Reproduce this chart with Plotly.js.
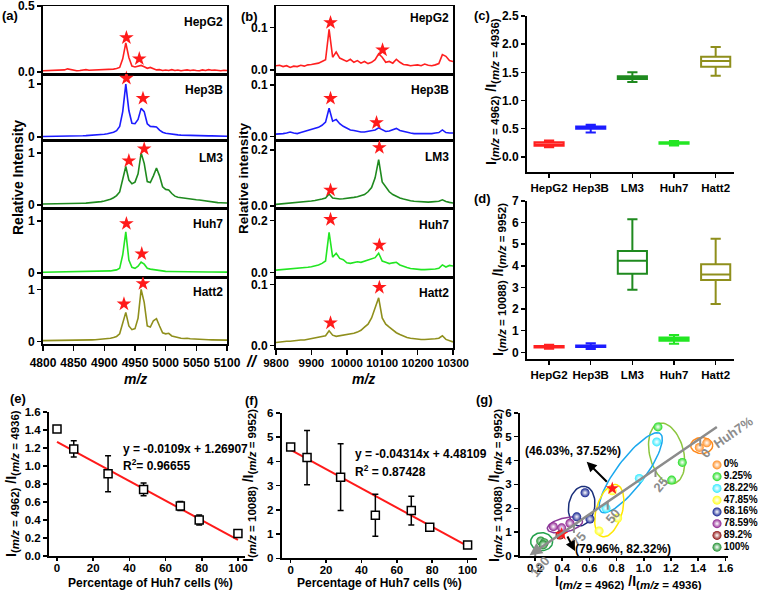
<!DOCTYPE html>
<html>
<head>
<meta charset="utf-8">
<title>HCC cell lines - MALDI ratios</title>
<script src="https://cdn.plot.ly/plotly-3.0.1.min.js"></script>
<style>
	body { margin: 0; background-color: white; }
	#chart { width: 760px; height: 590px; }
</style>
</head>
<body>
<div id="chart"></div>
<script>
	// ---- values ----
	var cells = ['HepG2', 'Hep3B', 'LM3', 'Huh7', 'Hatt2'];
	var cellColors = ['#ff2020', '#1c1cff', '#1f8a1f', '#22e622', '#8f8f1c'];

	var mzLow = [4800,4805,4810,4815,4820,4825,4830,4835,4840,4845,4850,4855,4860,4865,4870,4875,4880,4885,4890,4895,
		4900,4905,4910,4915,4920,4925,4930,4935,4940,4945,4950,4955,4960,4965,4970,4975,4980,4985,4990,4995,
		5000,5005,5010,5015,5020,5025,5030,5035,5040,5045,5050,5055,5060,5065,5070,5075,5080,5085,5090,5095,5100];
	var lowHepG2 = [0.010,0.011,0.012,0.010,0.012,0.011,0.013,0.016,0.024,0.020,
		0.012,0.010,0.012,0.014,0.018,0.013,0.014,0.016,0.012,0.015,
		0.015,0.019,0.018,0.022,0.026,0.035,0.100,0.220,0.110,0.045,
		0.038,0.045,0.050,0.040,0.028,0.035,0.026,0.016,0.018,0.012,
		0.015,0.012,0.018,0.012,0.015,0.010,0.013,0.016,0.012,0.015,
		0.012,0.010,0.016,0.012,0.018,0.013,0.015,0.012,0.010,0.013,0.011];
	var lowHep3B = [0.010,0.010,0.010,0.011,0.012,0.012,0.012,0.013,0.014,0.015,
		0.016,0.018,0.020,0.022,0.025,0.028,0.030,0.034,0.040,0.046,
		0.052,0.060,0.070,0.090,0.120,0.200,0.480,1.000,0.500,0.260,
		0.250,0.330,0.540,0.480,0.250,0.200,0.195,0.190,0.130,0.090,
		0.070,0.060,0.050,0.045,0.040,0.035,0.032,0.030,0.028,0.026,
		0.025,0.023,0.022,0.021,0.020,0.020,0.018,0.018,0.017,0.016,0.015];
	var lowLM3 = [0.020,0.020,0.021,0.022,0.022,0.023,0.024,0.025,0.026,0.027,
		0.028,0.030,0.032,0.034,0.036,0.040,0.044,0.050,0.056,0.065,
		0.075,0.090,0.110,0.140,0.180,0.250,0.500,0.740,0.480,0.410,
		0.440,0.600,1.000,0.800,0.450,0.430,0.560,0.710,0.560,0.350,
		0.300,0.290,0.220,0.170,0.150,0.140,0.130,0.120,0.110,0.100,
		0.100,0.095,0.085,0.075,0.065,0.055,0.050,0.045,0.042,0.040,0.038];
	var lowHuh7 = [0.015,0.016,0.015,0.016,0.017,0.016,0.017,0.018,0.017,0.018,
		0.018,0.019,0.018,0.020,0.020,0.021,0.022,0.024,0.026,0.030,
		0.032,0.035,0.040,0.050,0.060,0.090,0.350,0.790,0.250,0.110,
		0.090,0.130,0.210,0.170,0.090,0.075,0.065,0.050,0.040,0.035,
		0.032,0.030,0.028,0.026,0.025,0.024,0.023,0.022,0.021,0.020,
		0.020,0.020,0.019,0.019,0.019,0.018,0.018,0.018,0.017,0.017,0.017];
	var lowHatt2 = [0.020,0.020,0.021,0.021,0.022,0.022,0.023,0.023,0.024,0.024,
		0.025,0.026,0.027,0.028,0.030,0.032,0.034,0.036,0.040,0.045,
		0.050,0.055,0.065,0.080,0.100,0.150,0.350,0.560,0.300,0.230,
		0.250,0.450,1.000,0.750,0.300,0.280,0.400,0.440,0.300,0.170,
		0.150,0.160,0.110,0.090,0.075,0.065,0.060,0.065,0.055,0.050,
		0.050,0.045,0.040,0.038,0.036,0.034,0.032,0.031,0.030,0.030,0.030];

	var mzHigh = [9800,9810,9820,9830,9840,9850,9860,9870,9880,9890,
		9900,9910,9920,9930,9940,9950,9960,9970,9980,9990,
		10000,10010,10020,10030,10040,10050,10060,10070,10080,10090,
		10100,10110,10120,10130,10140,10150,10160,10170,10180,10190,
		10200,10210,10220,10230,10240,10250,10260,10270,10280,10290,10300];
	var highHepG2 = [0.010,0.011,0.008,0.010,0.006,0.009,0.008,0.011,0.009,0.012,
		0.013,0.015,0.016,0.020,0.024,0.095,0.030,0.042,0.028,0.024,
		0.020,0.025,0.018,0.022,0.016,0.020,0.015,0.018,0.024,0.038,
		0.030,0.018,0.020,0.016,0.025,0.018,0.013,0.012,0.010,0.011,
		0.012,0.010,0.014,0.011,0.010,0.012,0.015,0.036,0.032,0.022,0.020];
	var highHep3B = [0.005,0.005,0.006,0.007,0.009,0.007,0.006,0.008,0.010,0.012,
		0.014,0.016,0.018,0.022,0.028,0.055,0.030,0.033,0.025,0.020,
		0.016,0.013,0.012,0.010,0.009,0.009,0.010,0.011,0.013,0.017,
		0.013,0.010,0.011,0.013,0.016,0.012,0.010,0.008,0.007,0.006,
		0.006,0.006,0.005,0.006,0.006,0.007,0.008,0.013,0.008,0.007,0.007];
	var highLM3 = [0.005,0.006,0.007,0.008,0.009,0.010,0.011,0.012,0.014,0.015,
		0.017,0.019,0.021,0.024,0.028,0.042,0.028,0.026,0.024,0.025,
		0.026,0.028,0.030,0.032,0.036,0.040,0.050,0.065,0.100,0.165,
		0.085,0.065,0.050,0.040,0.033,0.028,0.024,0.020,0.018,0.016,
		0.015,0.014,0.013,0.013,0.014,0.015,0.016,0.021,0.015,0.012,0.010];
	var highHuh7 = [0.010,0.011,0.012,0.013,0.015,0.016,0.017,0.018,0.020,0.021,
		0.023,0.026,0.030,0.036,0.045,0.155,0.060,0.075,0.055,0.050,
		0.038,0.036,0.040,0.042,0.040,0.045,0.048,0.052,0.058,0.075,
		0.045,0.040,0.035,0.038,0.040,0.030,0.024,0.020,0.016,0.014,
		0.013,0.012,0.012,0.013,0.012,0.014,0.017,0.030,0.022,0.028,0.026];
	var highHatt2 = [0.005,0.006,0.006,0.007,0.007,0.008,0.008,0.009,0.009,0.010,
		0.011,0.012,0.013,0.014,0.016,0.024,0.017,0.015,0.016,0.017,
		0.017,0.018,0.020,0.022,0.025,0.030,0.035,0.045,0.060,0.078,
		0.045,0.035,0.030,0.025,0.021,0.018,0.015,0.013,0.012,0.011,
		0.010,0.010,0.010,0.010,0.010,0.011,0.012,0.016,0.010,0.008,0.006];

	// red stars marking the peaks
	var starLowX = [[4936,4957],[4936,4963],[4940,4965],[4936,4961],[4932,4963]];
	var starLowY = [[0.26,0.10],[1.11,0.73],[0.85,1.08],[0.95,0.37],[0.72,1.11]];
	var starHighX = [[9954,10101],[9954,10084],[9954,10092],[9954,10092],[9954,10092]];
	var starHighY = [[0.111,0.047],[0.074,0.027],[0.056,0.208],[0.205,0.106],[0.037,0.095]];

	var lowTicks = [[0,0.5],[0,1],[0,1],[0,1],[0,1]];
	var lowTickText = [['0.0','0.5'],['0','1'],['0','1'],['0','1'],['0','1']];
	var highTicks = [[0,0.1],[0,0.1],[0,0.2],[0,0.2],[0,0.1]];
	var highTickText = [['0.0','0.1'],['0.0','0.1'],['0.0','0.2'],['0.0','0.2'],['0.0','0.1']];
	var lowXTicks = [4800,4850,4900,4950,5000,5050,5100];
	var highXTicks = [9800,9900,10000,10100,10200,10300];

	// box plots: I(4962)/I(4936) and I(10088)/I(9952)
	var r1Low = [0.17,0.43,1.33,0.20,1.44];
	var r1Q1 = [0.195,0.50,1.38,0.23,1.60];
	var r1Med = [0.22,0.52,1.40,0.245,1.70];
	var r1Q3 = [0.26,0.54,1.43,0.26,1.775];
	var r1High = [0.29,0.57,1.50,0.28,1.95];
	var r2Low = [0.17,0.15,2.89,0.39,2.24];
	var r2Q1 = [0.22,0.24,3.63,0.54,3.35];
	var r2Med = [0.26,0.28,4.23,0.60,3.60];
	var r2Q3 = [0.29,0.32,4.69,0.68,4.07];
	var r2High = [0.35,0.42,6.16,0.80,5.25];

	// mixtures with Huh7 cells
	var huh7Pct = [0, 9.25, 28.22, 47.85, 68.16, 78.59, 100];
	var mixRatio1 = [1.41, 1.19, 0.915, 0.74, 0.555, 0.40, 0.25];
	var mixRatio1Err = [0.012, 0.09, 0.20, 0.07, 0.05, 0.055, 0.015];
	var mixRatio2 = [4.60, 4.16, 3.35, 1.78, 1.97, 1.28, 0.55];
	var mixRatio2Err = [0.08, 1.12, 1.38, 0.87, 0.59, 0.05, 0.05];
	var fitX = [0, 100];
	var fit1Y = [1.269, 0.179];
	var fit2Y = [4.48, 0.50];
	var fit1Text = ['y = -0.0109x + 1.26907', 'R<sup>2</sup>= 0.96655'];
	var fit2Text = ['y = -0.04314x + 4.48109', 'R<sup>2</sup> = 0.87428'];

	// scatter of the two ratios, one group per mixture
	var groups = ['0%', '9.25%', '28.22%', '47.85%', '68.16%', '78.59%', '89.2%', '100%'];
	var groupColors = ['#ff8a1c', '#1fdc1f', '#2ee8ff', '#ffff1a', '#0a1a8c', '#8a1a8c', '#8c0a0a', '#1a8c2a'];
	var groupX = [[1.408,1.463],[1.104,1.283,1.205],[1.095,0.967,0.722],[0.768,0.671,0.808],
		[0.568,0.507,0.604],[0.335,0.396,0.457],[0.384],[0.242,0.268,0.26]];
	var groupY = [[4.55,4.74],[5.41,3.92,3.18],[4.78,3.25,2.0],[2.73,1.05,1.59],
		[2.65,1.64,1.55],[1.23,1.18,1.37],[0.88],[0.63,0.56,0.47]];
	// ellipse: centre x, centre y, half axes in px, tilt in degrees
	var ellipses = [[1.426,4.63,11,8,0],[1.168,4.30,31,17,76],[0.904,3.49,49,14,-53],[0.746,1.90,27,13,-74],
		[0.543,2.09,20,13,-80],[0.42,1.30,18,7,-13],[0.249,0.60,11,9,0]];
	var ellipseColors = ['#ff8a1c', '#8cc63f', '#1aa8ee', '#ffe600', '#1a2f7a', '#8a3a9a', '#22a04a'];
	var starMixX = [0.768, 0.396];
	var starMixY = [2.83, 0.92];
	var huh7Axis = [[0.16, 0.03], [1.548, 5.45]];
	var huh7Labels = ['0', '25', '50', '75', '100'];
	var huh7Frac = [0.904, 0.667, 0.414, 0.235, 0.03];
	var arrowHeads = [[0.58, 3.95], [0.494, 0.21]];
	var arrowTails = [[0.739, 3.05], [0.433, 0.88]];
	var arrowText = ['(46.03%, 37.52%)', '(79.96%, 82.32%)'];
	var arrowTextPos = [[0.476, 4.40], [0.847, 0.29]];

	// ---- layout helpers ----
	var W = 760, H = 590;
	var FONT = 'Liberation Sans, Arial, sans-serif';
	function fx(p) { return p / W; }
	function fy(p) { return 1 - p / H; }
	function bold(size, color) { return {family: FONT, size: size, color: color || 'black', weight: 'bold'}; }
	function axId(n) { return n === 1 ? '' : String(n); }
	function baseAxis() {
		return {showgrid: false, zeroline: false, showline: true, linecolor: 'black', linewidth: 2,
			ticks: 'outside', ticklen: 4, tickwidth: 1.5, tickcolor: 'black', tickfont: bold(12),
			tickangle: 0, fixedrange: true, automargin: false};
	}

	var traces = [];
	var layout = {
		width: W, height: H,
		margin: {l: 0, r: 0, t: 0, b: 0},
		showlegend: false,
		paper_bgcolor: 'white',
		plot_bgcolor: 'rgba(0,0,0,0)',
		font: bold(12),
		annotations: [],
		shapes: []
	};

	function note(text, x, y, extra) {
		var a = {text: text, xref: 'paper', yref: 'paper', x: fx(x), y: fy(y), showarrow: false,
			font: bold(12), xanchor: 'center', yanchor: 'middle'};
		layout.annotations.push(Object.assign(a, extra || {}));
	}

	function ratioTitle(a, b) {
		var sub = function (m) { return '<sub><span style="font-size:11.5px">(<i>m/z</i> = ' + m + ')</span></sub>'; };
		return 'I' + sub(a) + ' /I' + sub(b);
	}

	// ---- (a) and (b) spectra ----
	function spectra(first, left, right, bands, mz, series, yRanges, yTicks, yText, xTicks, xFont, xStand, sx, sy, nameDy) {
		series.forEach(function (ys, i) {
			var id = axId(first + i), last = i === series.length - 1;
			layout['xaxis' + id] = Object.assign(baseAxis(), {
				anchor: 'y' + id, domain: [fx(left), fx(right)], range: [mz[0], mz[mz.length - 1]],
				mirror: true, linewidth: 1.5, ticks: last ? 'outside' : '', showticklabels: last,
				tickvals: xTicks, tickformat: 'd', ticklen: 5, ticklabelstandoff: xStand, tickfont: bold(xFont)
			});
			layout['yaxis' + id] = Object.assign(baseAxis(), {
				anchor: 'x' + id, domain: [fy(bands[i][1]), fy(bands[i][0])], range: yRanges[i],
				mirror: true, tickvals: yTicks[i], ticktext: yText[i]
			});
			traces.push({type: 'scatter', mode: 'lines', x: mz, y: ys, xaxis: 'x' + id, yaxis: 'y' + id,
				line: {color: cellColors[i], width: 1.6}, hoverinfo: 'skip'});
			traces.push({type: 'scatter', mode: 'markers', x: sx[i], y: sy[i], xaxis: 'x' + id, yaxis: 'y' + id,
				cliponaxis: false, marker: {symbol: 'star', size: 11, color: '#ff1a1a'}, hoverinfo: 'skip'});
			note(cells[i], right - 2, bands[i][0] + nameDy[i], {xanchor: 'right'});
		});
	}

	spectra(1, 43, 227, [[6,74],[74,140],[140,208],[208,277],[277,344]], mzLow,
		[lowHepG2, lowHep3B, lowLM3, lowHuh7, lowHatt2],
		[[-0.015,0.5],[-0.057,1.19],[-0.058,1.25],[-0.077,1.25],[-0.044,1.235]],
		lowTicks, lowTickText, lowXTicks, 12, 2, starLowX, starLowY, [16,16,18,16,15]);
	spectra(6, 276, 453, [[6,74],[74,140],[140,208],[208,277],[277,348]], mzHigh,
		[highHepG2, highHep3B, highLM3, highHuh7, highHatt2],
		[[-0.0094,0.15],[-0.0064,0.121],[-0.008,0.235],[-0.0165,0.249],[-0.004,0.112]],
		highTicks, highTickText, highXTicks, 11.5, -1, starHighX, starHighY, [12,16,17,17,16]);

	// ---- (c) and (d) box plots ----
	function boxes(n, top, bottom, yRange, dtick, fmt, lo, q1, med, q3, hi) {
		var id = axId(n);
		layout['xaxis' + id] = Object.assign(baseAxis(), {
			anchor: 'y' + id, domain: [fx(527), fx(734)], type: 'category', range: [-0.53, 4.44],
			tickfont: bold(11.5)
		});
		layout['yaxis' + id] = Object.assign(baseAxis(), {
			anchor: 'x' + id, domain: [fy(bottom), fy(top)], range: yRange, dtick: dtick, tick0: 0, tickformat: fmt
		});
		cells.forEach(function (c, i) {
			traces.push({type: 'box', x: [c], lowerfence: [lo[i]], q1: [q1[i]], median: [med[i]], q3: [q3[i]],
				upperfence: [hi[i]], xaxis: 'x' + id, yaxis: 'y' + id, boxpoints: false,
				line: {color: cellColors[i], width: 2}, fillcolor: 'rgba(255,255,255,0)',
				width: 0.7, whiskerwidth: 0.35, hoverinfo: 'skip'});
		});
	}
	boxes(11, 16, 172, [-0.27, 2.5], 0.5, '.1f', r1Low, r1Q1, r1Med, r1Q3, r1High);
	boxes(12, 201, 359, [-0.31, 7], 1, '', r2Low, r2Q1, r2Med, r2Q3, r2High);

	// ---- (e) and (f) linear fits ----
	function mixture(n, left, right, top, bottom, xRange, yRange, dtick, fmt, ys, errs, fitY, fitText, textX, textY) {
		var id = axId(n);
		layout['xaxis' + id] = Object.assign(baseAxis(), {
			anchor: 'y' + id, domain: [fx(left), fx(right)], range: xRange, tickvals: [0,20,40,60,80,100],
			tickfont: bold(11.5), ticklen: 3, ticklabelstandoff: -3
		});
		layout['yaxis' + id] = Object.assign(baseAxis(), {
			anchor: 'x' + id, domain: [fy(bottom), fy(top)], range: yRange, dtick: dtick, tick0: 0,
			tickformat: fmt, tickfont: bold(11.5)
		});
		traces.push({type: 'scatter', mode: 'lines', x: fitX, y: fitY, xaxis: 'x' + id, yaxis: 'y' + id,
			line: {color: '#ff1a1a', width: 2}, hoverinfo: 'skip'});
		traces.push({type: 'scatter', mode: 'markers', x: huh7Pct, y: ys, xaxis: 'x' + id, yaxis: 'y' + id,
			cliponaxis: false,
			error_y: {type: 'data', array: errs, visible: true, color: 'black', thickness: 1.5, width: 3},
			marker: {symbol: 'square', size: 8, color: 'white', line: {color: 'black', width: 1.5}},
			hoverinfo: 'skip'});
		fitText.forEach(function (t, k) {
			layout.annotations.push({text: t, xref: 'x' + id, yref: 'y' + id, x: textX, y: textY[k],
				xanchor: 'left', yanchor: 'middle', showarrow: false, font: bold(12)});
		});
	}
	mixture(13, 49, 245, 412, 556, [-4.42, 103.9], [0, 1.6], 0.2, '.1f',
		mixRatio1, mixRatio1Err, fit1Y, fit1Text, 35.4, [1.19, 1.01]);
	mixture(14, 281.7, 477, 413, 558.3, [-5.08, 105.3], [0, 6], 1, '',
		mixRatio2, mixRatio2Err, fit2Y, fit2Text, 35.2, [4.31, 3.61]);

	// ---- (g) ratio vs ratio ----
	layout.xaxis15 = Object.assign(baseAxis(), {
		anchor: 'y15', domain: [fx(520), fx(728)], range: [0.0897, 1.619], dtick: 0.2, tick0: 0.2,
		tickformat: '.1f', tickfont: bold(11.5), ticklen: 3, ticklabelstandoff: -3
	});
	layout.yaxis15 = Object.assign(baseAxis(), {
		anchor: 'x15', domain: [fy(556), fy(412.8)], range: [0, 6], dtick: 1, tick0: 0, tickfont: bold(11.5)
	});

	var gx = layout.xaxis15, gy = layout.yaxis15;
	var sxg = (gx.domain[1] - gx.domain[0]) * W / (gx.range[1] - gx.range[0]);
	var syg = (gy.domain[1] - gy.domain[0]) * H / (gy.range[1] - gy.range[0]);
	ellipses.forEach(function (e, i) {
		var xs = [], ys = [], th = e[4] * Math.PI / 180;
		for (var k = 0; k <= 72; k++) {
			var t = k / 72 * 2 * Math.PI;
			var ex = e[2] * Math.cos(t), ey = e[3] * Math.sin(t);
			xs.push(e[0] + (ex * Math.cos(th) - ey * Math.sin(th)) / sxg);
			ys.push(e[1] - (ex * Math.sin(th) + ey * Math.cos(th)) / syg);
		}
		traces.push({type: 'scatter', mode: 'lines', x: xs, y: ys, xaxis: 'x15', yaxis: 'y15',
			line: {color: ellipseColors[i], width: 1.5}, hoverinfo: 'skip'});
	});

	// grey Huh7% axis with its ticks
	layout.annotations.push({xref: 'x15', yref: 'y15', axref: 'x15', ayref: 'y15', text: '',
		x: huh7Axis[0][0], y: huh7Axis[0][1], ax: huh7Axis[1][0], ay: huh7Axis[1][1],
		showarrow: true, arrowhead: 2, arrowsize: 1, arrowwidth: 2.5, arrowcolor: '#8c8c8c', standoff: 0});
	huh7Labels.forEach(function (lab, k) {
		var f = huh7Frac[k];
		var tx = huh7Axis[0][0] + f * (huh7Axis[1][0] - huh7Axis[0][0]);
		var ty = huh7Axis[0][1] + f * (huh7Axis[1][1] - huh7Axis[0][1]);
		layout.shapes.push({type: 'line', xref: 'x15', yref: 'y15', xsizemode: 'pixel', ysizemode: 'pixel',
			xanchor: tx, yanchor: ty, x0: 0, x1: 0, y0: 0, y1: -8, line: {color: '#8c8c8c', width: 2}});
		layout.annotations.push({text: lab, xref: 'x15', yref: 'y15', x: tx, y: ty, xshift: 5, yshift: -15,
			textangle: -50, showarrow: false, font: bold(13, '#8c8c8c')});
	});
	note('Huh7%', 733, 432, {textangle: -35, font: bold(13, '#8c8c8c')});

	groups.forEach(function (g, i) {
		traces.push({type: 'scatter', mode: 'markers', x: groupX[i], y: groupY[i], xaxis: 'x15', yaxis: 'y15',
			cliponaxis: false, hoverinfo: 'skip',
			marker: {size: 9, color: groupColors[i], gradient: {type: 'radial', color: 'rgba(255,255,255,0.9)'}}});
	});
	traces.push({type: 'scatter', mode: 'markers', x: starMixX, y: starMixY, xaxis: 'x15', yaxis: 'y15',
		marker: {symbol: 'star', size: 10, color: '#ff1a1a'}, hoverinfo: 'skip'});

	arrowHeads.forEach(function (h, k) {
		layout.annotations.push({xref: 'x15', yref: 'y15', axref: 'x15', ayref: 'y15', text: '',
			x: h[0], y: h[1], ax: arrowTails[k][0], ay: arrowTails[k][1],
			showarrow: true, arrowhead: 2, arrowsize: 1, arrowwidth: 2, arrowcolor: 'black', standoff: 0});
		layout.annotations.push({text: arrowText[k], xref: 'x15', yref: 'y15',
			x: arrowTextPos[k][0], y: arrowTextPos[k][1], showarrow: false, font: bold(12)});
	});

	// legend of (g) drawn on a hidden category axis
	layout.xaxis16 = {anchor: 'y16', domain: [fx(710), fx(760)], range: [0, 1], visible: false, fixedrange: true};
	layout.yaxis16 = {anchor: 'x16', domain: [fy(553), fy(459)], type: 'category', categoryorder: 'array',
		categoryarray: groups, range: [7.5, -0.5], visible: false, fixedrange: true};
	traces.push({type: 'scatter', mode: 'markers+text', x: groups.map(function () { return 0.14; }), y: groups,
		text: groups, textposition: 'middle right', textfont: bold(10), cliponaxis: false,
		xaxis: 'x16', yaxis: 'y16', hoverinfo: 'skip',
		marker: {size: 9, color: groupColors, gradient: {type: 'radial', color: 'rgba(255,255,255,0.9)'}}});

	// ---- titles and panel letters ----
	note('Relative Intensity', 18, 178, {textangle: -90, font: bold(14)});
	note('Relative intensity', 243, 178, {textangle: -90, font: bold(13.5)});
	note('<i>m/z</i>', 135, 379, {font: bold(14)});
	note('<i>m/z</i>', 363, 379, {font: bold(14)});
	note('//', 251, 361, {font: {family: FONT, size: 16, color: 'black', weight: 'bold', style: 'italic'}});
	note(ratioTitle(4962, 4936), 492, 92, {textangle: -90, font: bold(14)});
	note(ratioTitle(10088, 9952), 499, 280, {textangle: -90, font: bold(14)});
	note(ratioTitle(4962, 4936), 12, 484, {textangle: -90, font: bold(14)});
	note(ratioTitle(10088, 9952), 249, 486, {textangle: -90, font: bold(14)});
	note(ratioTitle(10088, 9952), 495, 486, {textangle: -90, font: bold(14)});
	note(ratioTitle(4962, 4936), 628, 582, {font: bold(14)});
	note('Percentage of Huh7 cells (%)', 150, 583);
	note('Percentage of Huh7 cells (%)', 379, 583);

	var letters = [['(a)', 10, 15], ['(b)', 249, 16], ['(c)', 482, 15], ['(d)', 482, 198],
		['(e)', 18, 398], ['(f)', 251, 400], ['(g)', 484, 399]];
	letters.forEach(function (l) { note(l[0], l[1], l[2], {font: bold(13)}); });

	Plotly.newPlot('chart', traces, layout, {staticPlot: true, displayModeBar: false});
</script>
</body>
</html>
